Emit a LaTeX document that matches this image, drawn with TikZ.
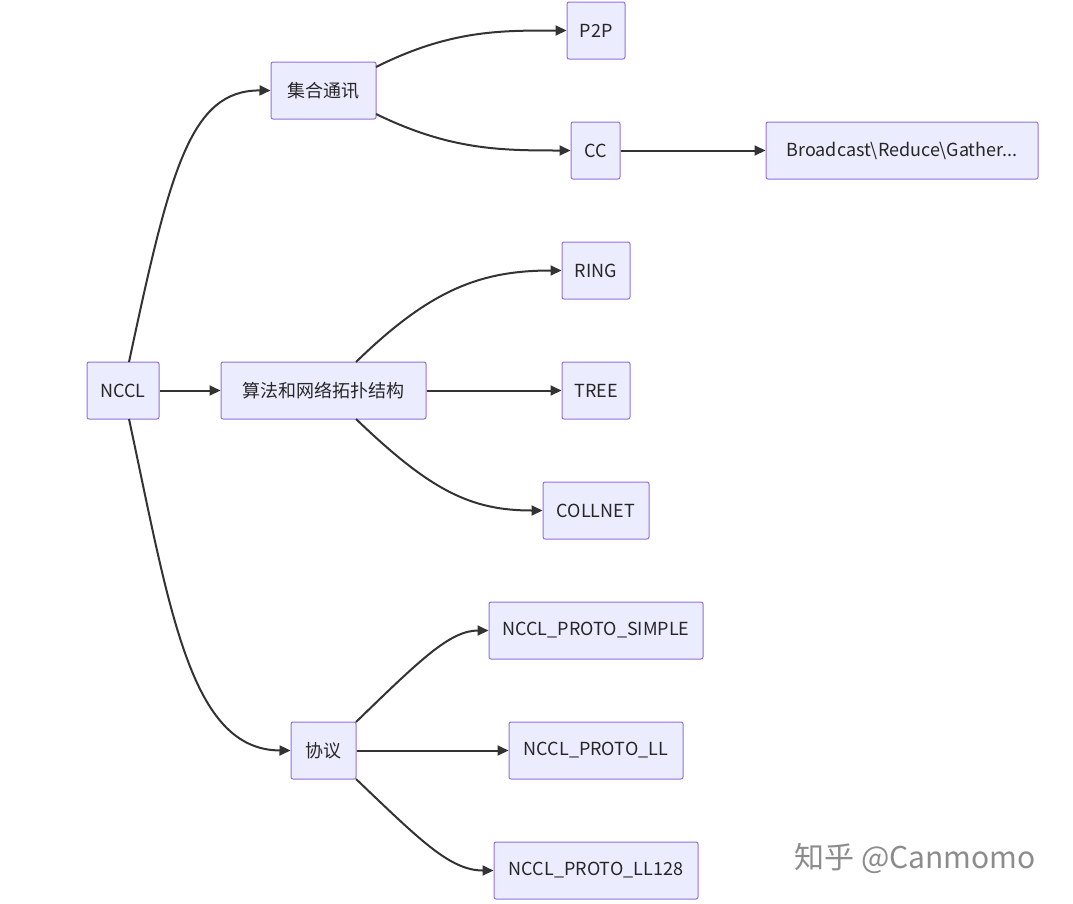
\documentclass[tikz,border=0pt]{standalone}
\usepackage{fontspec}
\setmainfont{Noto Sans CJK SC}
\usetikzlibrary{arrows.meta}
\definecolor{mborder}{HTML}{9370DB}
\definecolor{mfill}{HTML}{ECECFF}
\definecolor{mline}{HTML}{333333}
\begin{document}
\begin{tikzpicture}[x=1pt,y=-1pt,
  box/.style={draw=mborder,fill=mfill,line width=1pt,rounded corners=2pt,minimum height=57pt,inner xsep=12pt,font=\fontsize{18}{21}\selectfont,text=black!85},
  edge/.style={draw=mline,line width=2pt,-{Triangle[length=11pt,width=10pt]}}]
\useasboundingbox (0,0) rectangle (1073,903);
\node[box,minimum width=72pt] (nccl) at (123,390.5) {NCCL};
\node[box,minimum width=105pt] (jh) at (323.5,90.5) {集合通讯};
\node[box,minimum width=205pt] (sf) at (323.5,390.5) {算法和网络拓扑结构};
\node[box,minimum width=65pt] (xy) at (323.5,750.5) {协议};
\node[box,minimum width=58pt] (p2p) at (596,30.5) {P2P};
\node[box,minimum width=49pt] (cc) at (595.5,150.5) {CC};
\node[box,minimum width=272pt] (bc) at (902,150.5) {Broadcast\textbackslash Reduce\textbackslash Gather...};
\node[box,minimum width=68pt] (ring) at (596,270.5) {RING};
\node[box,minimum width=68pt] (tree) at (596,390.5) {TREE};
\node[box,minimum width=106pt] (coll) at (596,510.5) {COLLNET};
\node[box,minimum width=214pt] (simple) at (596,630.5) {NCCL\_PROTO\_SIMPLE};
\node[box,minimum width=174pt] (ll) at (596,750.5) {NCCL\_PROTO\_LL};
\node[box,minimum width=204pt] (ll128) at (596,870.5) {NCCL\_PROTO\_LL128};
\coordinate (n1) at (129,362);
\coordinate (n2) at (129,419);
\draw[edge] (n1) .. controls (170,170) and (190,90) .. (jh.west);
\draw[edge] (nccl.east) -- (sf.west);
\draw[edge] (n2) .. controls (170,610) and (190,750) .. (xy.west);
\coordinate (j1) at (376,67);
\coordinate (j2) at (376,114);
\draw[edge] (j1) .. controls (450,30) and (500,30.5) .. (p2p.west);
\draw[edge] (j2) .. controls (450,150) and (500,150.5) .. (cc.west);
\draw[edge] (cc.east) -- (bc.west);
\coordinate (s1) at (356,362);
\coordinate (s2) at (356,419);
\draw[edge] (s1) .. controls (430,290) and (480,270.5) .. (ring.west);
\draw[edge] (sf.east) -- (tree.west);
\draw[edge] (s2) .. controls (430,490) and (470,510.5) .. (coll.west);
\coordinate (x1) at (356,722);
\coordinate (x2) at (356,779);
\draw[edge] (x1) .. controls (420,660) and (450,630.5) .. (simple.west);
\draw[edge] (xy.east) -- (ll.west);
\draw[edge] (x2) .. controls (420,840) and (450,870.5) .. (ll128.west);
\node[text=black!45,font=\fontsize{30}{34}\selectfont] (wm) at (915,858) {知乎 @Canmomo};
\end{tikzpicture}
\end{document}
